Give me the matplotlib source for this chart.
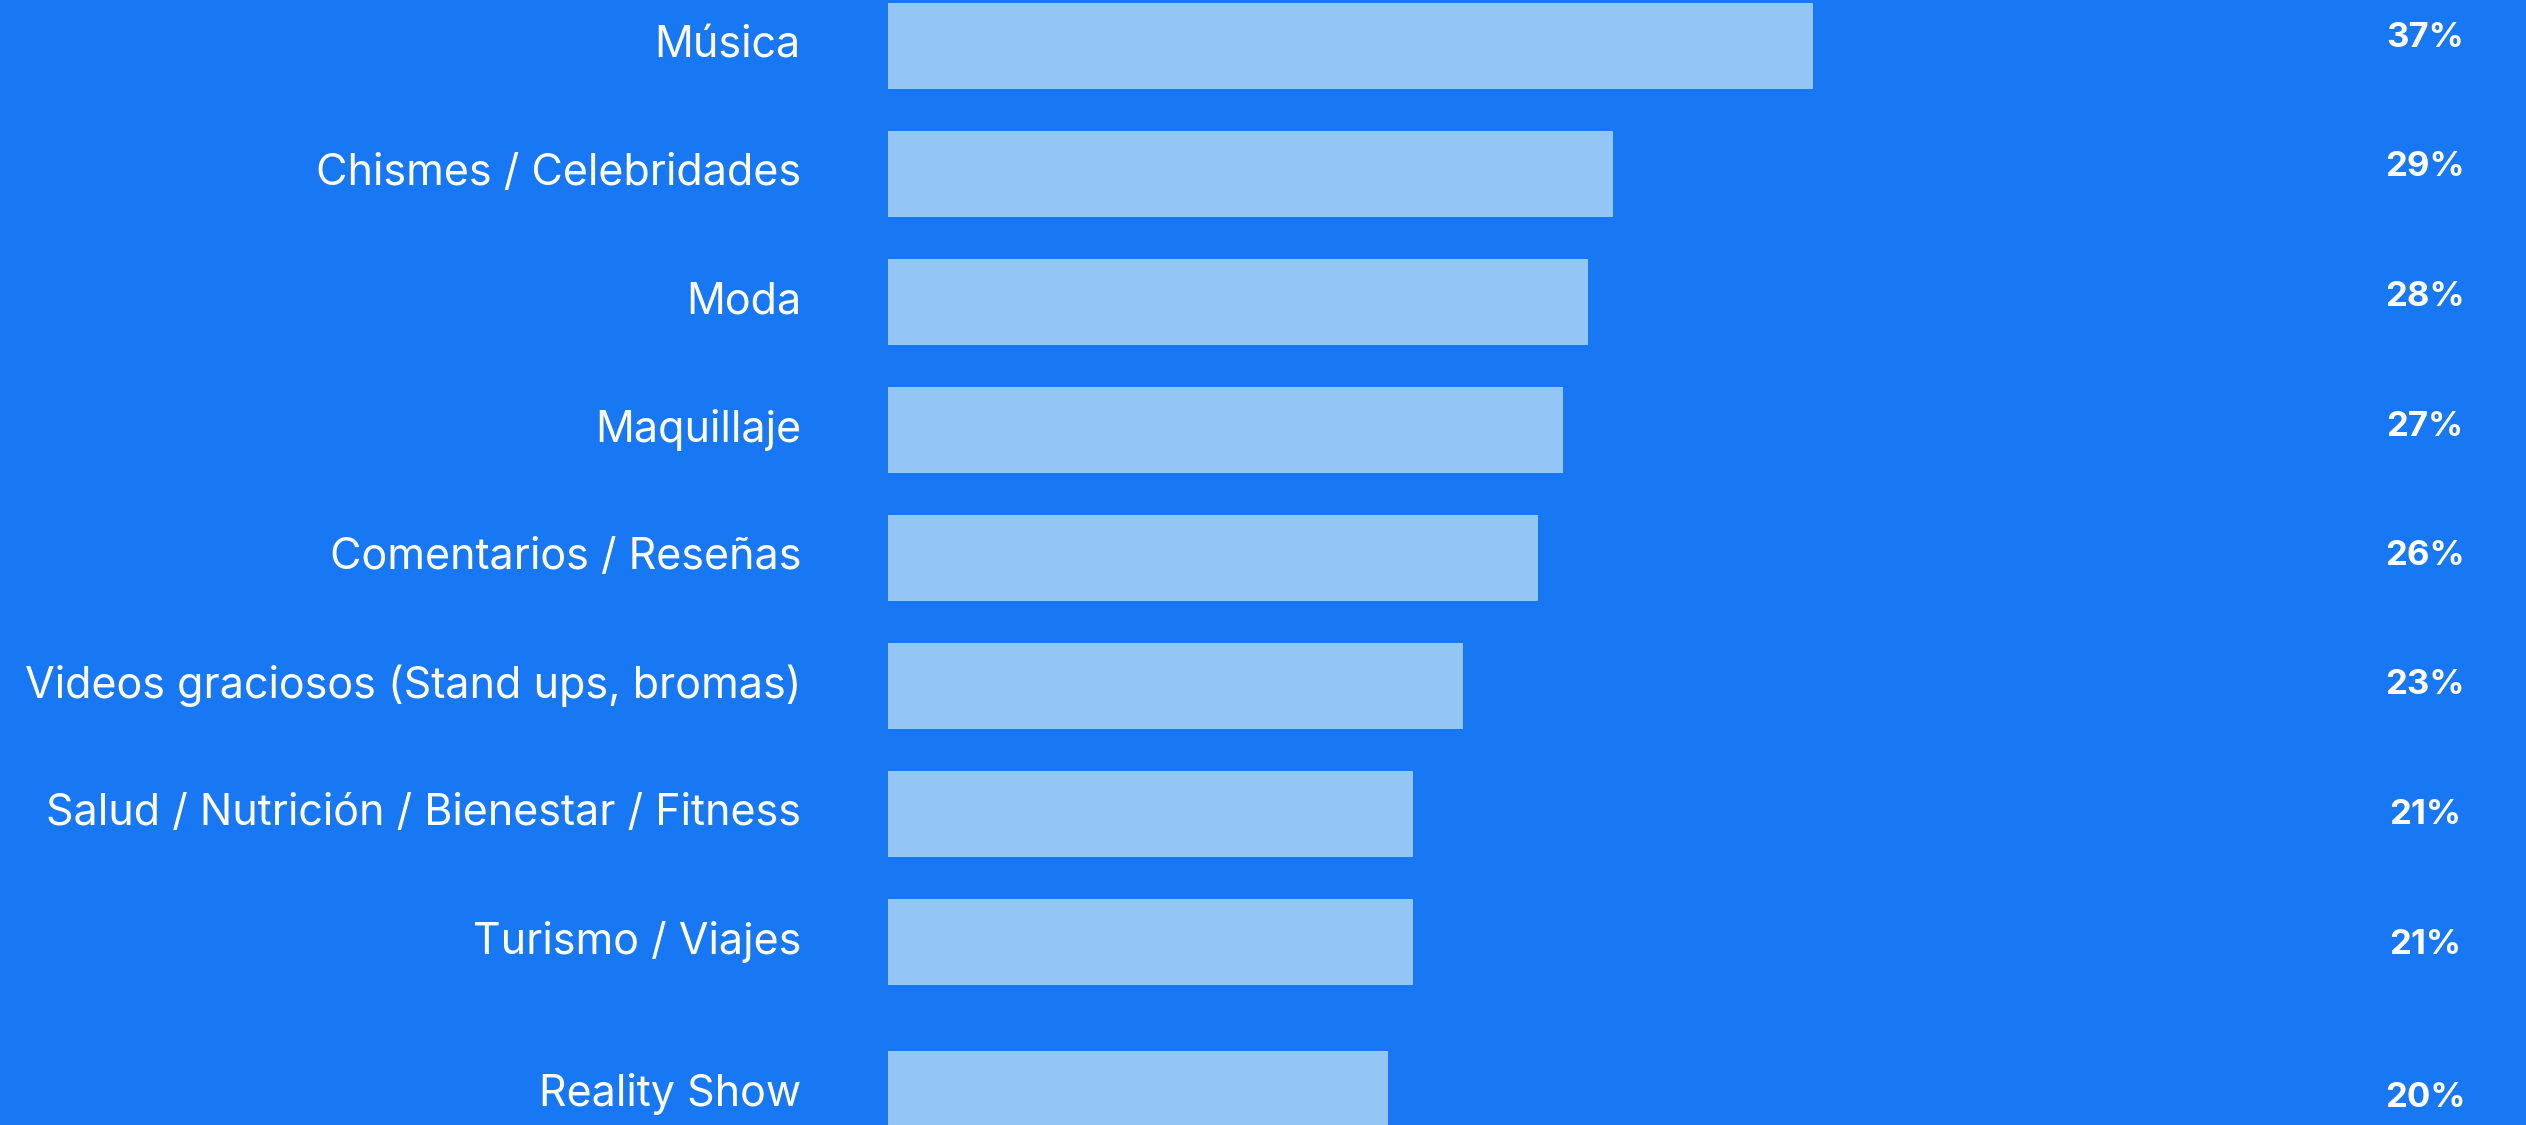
import numpy as np
import matplotlib.pyplot as plt
import matplotlib.transforms as mtransforms

plt.rcParams['font.family'] = ['Inter', 'DejaVu Sans']

categorias = [
    "Música",
    "Chismes / Celebridades",
    "Moda",
    "Maquillaje",
    "Comentarios / Reseñas",
    "Videos graciosos (Stand ups, bromas)",
    "Salud / Nutrición / Bienestar / Fitness",
    "Turismo / Viajes",
    "Reality Show",
]
porcentajes = [37, 29, 28, 27, 26, 23, 21, 21, 20]
etiquetas = ["37%", "29%", "28%", "27%", "26%", "23%", "21%", "21%", "20%"]

FONDO = "#1877F2"
BARRA = "#93C5F5"

W, H, DPI = 2526, 1125, 100
fig = plt.figure(figsize=(W / DPI, H / DPI), dpi=DPI, facecolor=FONDO)

# eje desde el inicio de las barras hasta el borde derecho
x0 = 888
px_por_pct = 25.0
ax = fig.add_axes([x0 / W, 0, 1 - x0 / W, 1])
ax.set_facecolor(FONDO)
ax.set_xlim(0, (W - x0) / px_por_pct)
paso = 128.0
ax.set_ylim((H - 46) / paso, -46 / paso)
for s in ax.spines.values():
    s.set_visible(False)
ax.set_xticks([])
ax.set_yticks([])

# la ultima barra queda un poco mas separada
ypos = np.arange(len(categorias), dtype=float)
ypos[-1] += 24 / paso

ax.barh(ypos, porcentajes, height=86 / paso, color=BARRA, edgecolor='none')

trans = mtransforms.blended_transform_factory(fig.transFigure, ax.transData)
for y, cat, lab in zip(ypos, categorias, etiquetas):
    ax.text(801 / W, y, cat, transform=trans, ha='right', va='center',
            color='white', fontsize=31)
    # los porcentajes van algo por encima del centro en las primeras filas
    dy = (-8 + 1.5 * y) / paso
    ax.text(2425 / W, y + dy, lab, transform=trans, ha='center', va='center',
            color='white', fontsize=25, fontweight='bold')

fig.savefig('out.png', dpi=DPI, facecolor=FONDO)
